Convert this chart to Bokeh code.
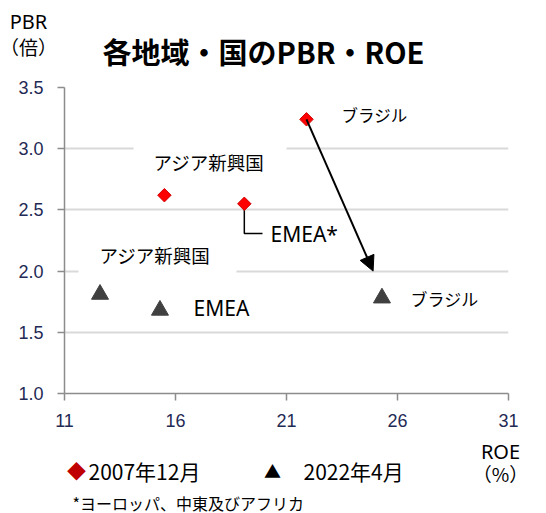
import numpy as np
from bokeh.plotting import figure
from bokeh.layouts import column
from bokeh.models import Range1d, Label, Arrow, NormalHead, NumeralTickFormatter
from bokeh.embed import file_html
from bokeh.resources import INLINE

# ---- data ----
regions = ["アジア新興国", "EMEA", "ブラジル"]
roe_2007 = [15.5, 19.1, 21.9]
pbr_2007 = [2.62, 2.55, 3.24]
roe_2022 = [12.6, 15.3, 25.3]
pbr_2022 = [1.81, 1.68, 1.78]
arrow_end = (24.9, 2.0)
x_ticks = [11, 16, 21, 26, 31]
y_ticks = [1.0, 1.5, 2.0, 2.5, 3.0, 3.5]

JP = "Noto Sans CJK JP"
LAT = "Noto Sans"

W = 546
HEAD_H = 77          # header strip (page y 0..77)
FOOT_TOP = 434       # footer strip (page y 434..513)
FOOT_H = 513 - FOOT_TOP
FL, FR, FT, FB = 64, 508, 87, 393  # plot frame edges in page pixels


def strip(height):
    f = figure(width=W, height=height, x_range=Range1d(0, W), y_range=Range1d(height, 0),
               output_backend="svg", toolbar_location=None,
               x_axis_location=None, y_axis_location=None, min_border=0)
    f.frame_align = False
    f.grid.visible = False
    f.outline_line_color = None
    f.background_fill_color = "white"
    f.border_fill_color = "white"
    return f


def slab(f, top, text, px, py, size, font=JP, align="left", color="#000000", bold=False):
    f.add_layout(Label(x=px, y=py - top, text=text, text_font=font,
                       text_font_size=f"{size}px", text_align=align, text_baseline="middle",
                       text_color=color, text_font_style="bold" if bold else "normal"))


# ---- header ----
head = strip(HEAD_H)
slab(head, 0, "各地域・国のPBR・ROE", 263, 50, 29, align="center", bold=True)
slab(head, 0, "PBR", 28, 21, 20, font=LAT, align="center")
slab(head, 0, "（倍）", 28, 46, 19, align="center")

# ---- main plot ----
MAIN_H = FOOT_TOP - HEAD_H
p = figure(width=W, height=MAIN_H, x_range=Range1d(11, 31), y_range=Range1d(1.0, 3.5),
           output_backend="svg", toolbar_location=None,
           min_border_left=FL, min_border_right=W - FR,
           min_border_top=FT - HEAD_H, min_border_bottom=FOOT_TOP - FB)
p.frame_align = False
p.outline_line_color = None
p.background_fill_color = "white"
p.border_fill_color = "white"
p.xgrid.grid_line_color = None
p.ygrid.grid_line_color = "#D9D9D9"
p.ygrid.grid_line_width = 2
p.xaxis.ticker = x_ticks
p.yaxis.ticker = y_ticks
p.yaxis.formatter = NumeralTickFormatter(format="0.0")
for ax in (p.xaxis, p.yaxis):
    ax.axis_line_color = "#8C8C8C"
    ax.axis_line_width = 1.5
    ax.major_tick_line_color = "#8C8C8C"
    ax.major_tick_line_width = 1.5
    ax.major_tick_out = 7
    ax.major_tick_in = 0
    ax.minor_tick_out = 0
    ax.minor_tick_in = 0
    ax.major_label_text_font = "Liberation Sans"
    ax.major_label_text_font_size = "18px"
    ax.major_label_text_color = "#1F2A55"
p.yaxis.major_label_standoff = 14
p.xaxis.major_label_standoff = 13


def X(px):
    return 11 + (px - FL) * 20 / (FR - FL)


def Y(py):
    return 1.0 + (FB - py) * 2.5 / (FB - FT)


def lab(text, px, py, size, font=JP, align="left", color="#000000", pad=None):
    kw = {}
    dx = dy = 0
    if pad is not None:
        kw = dict(background_fill_color="white", padding=pad)
        dx = -pad["left"]
        dy = (pad["top"] - pad["bottom"]) / 2
    p.add_layout(Label(x=px + dx - FL, y=FB - py + dy, x_units="screen", y_units="screen",
                       text=text, text_font=font,
                       text_font_size=f"{size}px", text_align=align, text_baseline="middle",
                       text_color=color, **kw))


# leader line for EMEA*
p.line([roe_2007[1], roe_2007[1], X(262)], [pbr_2007[1], Y(233), Y(233)],
       line_color="black", line_width=1.5)

# arrow Brazil
p.add_layout(Arrow(end=NormalHead(size=15, fill_color="black", line_color="black"),
                   x_start=roe_2007[2], y_start=pbr_2007[2], x_end=arrow_end[0], y_end=arrow_end[1],
                   line_color="black", line_width=2))

# data markers
p.scatter(roe_2007, pbr_2007, marker="square", angle=np.pi / 4, size=9.5,
          fill_color="#FF0000", line_color="#D00000", line_width=1)
p.scatter(roe_2022, pbr_2022, marker="triangle", size=17,
          fill_color="#404040", line_color="#404040")

# point labels
lab(regions[0], 153, 161, 18.5, pad=dict(left=20, right=22, top=6, bottom=2))
lab("EMEA*", 270, 233, 21, font=LAT)
lab(regions[2], 341, 114, 16.5)
lab(regions[0], 99, 254, 18.5, pad=dict(left=21, right=26, top=2, bottom=9))
lab(regions[1], 193, 307, 21, font=LAT)
lab(regions[2], 410, 298, 17)

# ---- footer ----
foot = strip(FOOT_H)
slab(foot, FOOT_TOP, "ROE", 500, 451, 20, font=LAT, align="center")
slab(foot, FOOT_TOP, "（%）", 500, 473, 19, align="center")
slab(foot, FOOT_TOP, "◆", 76, 470, 19, align="center", color="#C00000")
slab(foot, FOOT_TOP, "2007年12月", 88, 470, 21)
slab(foot, FOOT_TOP, "▲", 272, 470, 17, align="center")
slab(foot, FOOT_TOP, "2022年4月", 303, 470, 21)
slab(foot, FOOT_TOP, "*ヨーロッパ、中東及びアフリカ", 72, 502, 16)

layout = column(head, p, foot, spacing=0)
open("out.html", "w").write(file_html(layout, INLINE))
